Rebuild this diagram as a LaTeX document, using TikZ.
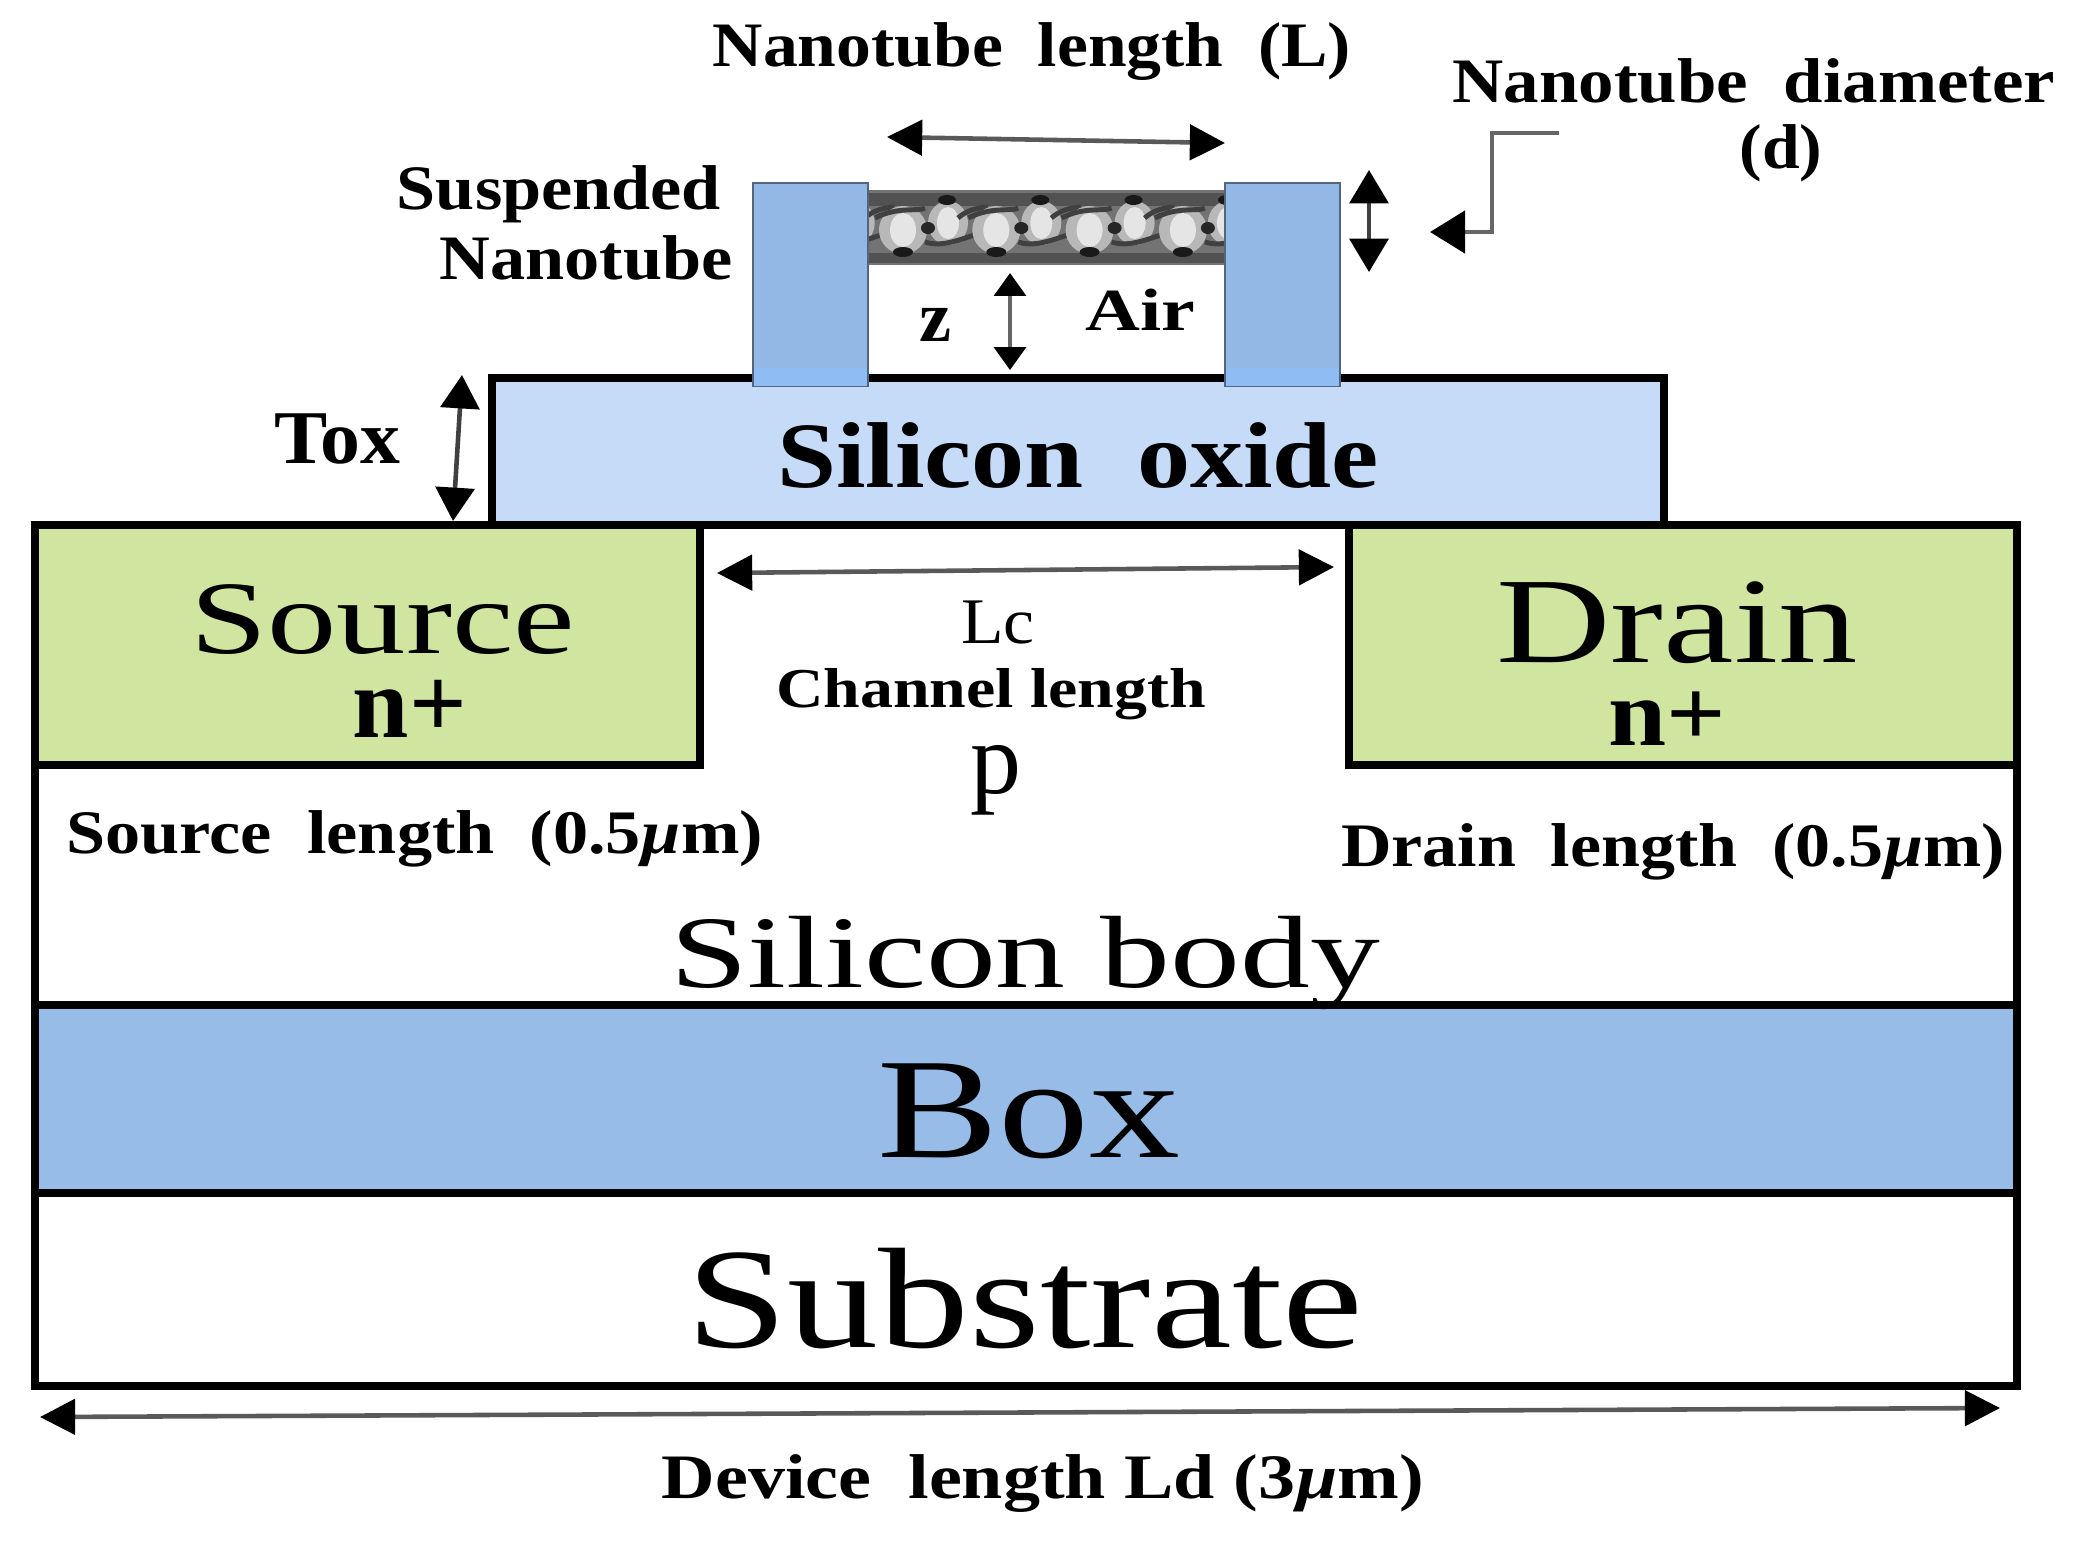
\documentclass[tikz,border=0pt]{standalone}
\usepackage{fontspec}
\setmainfont{Liberation Serif}
\usetikzlibrary{arrows.meta}

\definecolor{sourcegreen}{HTML}{D0E6A0}
\definecolor{boxblue}{HTML}{98BCE8}
\definecolor{oxideblue}{HTML}{C6DBF7}
\definecolor{pillarblue}{HTML}{93B8E6}
\definecolor{pillarfoot}{HTML}{8FBCF2}

\newcommand{\fsize}[1]{\fontsize{#1pt}{#1pt}\selectfont}

\tikzset{
    layer/.style={draw=black, line width=2.5pt},
    pillar/.style={draw=black!45!pillarblue, line width=0.8pt, fill=pillarblue},
    dimarrow/.style={<->, draw=black!65, line width=1.3pt, >={Triangle[length=10pt,width=10pt,color=black]}},
    thinarrow/.style={<->, draw=black!60, line width=1.1pt, >={Triangle[length=6.5pt,width=9pt,color=black]}},
    tallarrow/.style={<->, draw=black!75, line width=1.3pt, >={Triangle[length=9.5pt,width=11pt,color=black]}},
    strand/.style={draw=black!75, line width=1.4pt},
    smalltext/.style={anchor=base, inner sep=0pt, font=\bfseries\fsize{18}},
    bigtext/.style={anchor=base, inner sep=0pt},
}

\begin{document}
\begin{tikzpicture}[x=0.01cm, y=-0.01cm]
    \useasboundingbox (0,0) rectangle (2087,1541);

    % layers
    \draw[layer, fill=oxideblue] (492,378) rectangle (1664,525);
    \draw[layer, fill=white] (35,525) rectangle (2017,1005);
    \draw[layer, fill=sourcegreen] (35,525) rectangle (700,765);
    \draw[layer, fill=sourcegreen] (1349,525) rectangle (2017,765);
    \draw[layer, fill=boxblue] (35,1005) rectangle (2017,1193);
    \draw[layer, fill=white] (35,1193) rectangle (2017,1386);

    % nanotube
    \begin{scope}
        \clip (868,190) rectangle (1225,265);
        \fill[black!55] (868,190) rectangle (1225,265);
        \fill[black!68] (868,193) rectangle (1225,206);
        \fill[black!68] (868,253) rectangle (1225,263);
        \foreach \k in {-1,0,1,2,3} {
            \pgfmathsetmacro{\px}{903+93.3*\k}
            \fill[black!28] (\px,230) ellipse (24 and 24);
            \fill[black!28] (\px+45,223) ellipse (20 and 22);
            \fill[black!10] (\px,230) ellipse (13 and 17);
            \fill[black!10] (\px+45,223) ellipse (11 and 16);
            \draw[strand] (\px-28,218) .. controls (\px-5,206) and (\px+15,212) .. (\px+22,208);
            \draw[strand] (\px+22,242) .. controls (\px+40,248) and (\px+60,238) .. (\px+78,233);
            \draw[strand] (\px+55,218) .. controls (\px+62,212) and (\px+70,208) .. (\px+85,207);
            \fill[black!90] (\px+44,200) ellipse (9 and 5);
            \fill[black!90] (\px,252) ellipse (10 and 5);
            \fill[black!85] (\px+25,228) ellipse (7 and 6);
        }
    \end{scope}

    % pillars
    \draw[pillar] (753,183) rectangle (868,386);
    \draw[pillar] (1225,183) rectangle (1340,386);
    \fill[pillarfoot] (754,368) rectangle (867,386);
    \fill[pillarfoot] (1226,368) rectangle (1339,386);

    % arrow ends
    \coordinate (tubeL) at (887,137);
    \coordinate (tubeR) at (1225,143);
    \coordinate (diaT) at (1369,170);
    \coordinate (diaB) at (1369,272);
    \coordinate (zT) at (1010,273);
    \coordinate (zB) at (1010,370);
    \coordinate (toxT) at (462,375);
    \coordinate (toxB) at (453,521);
    \coordinate (chanL) at (717,573);
    \coordinate (chanR) at (1334,567);
    \coordinate (devL) at (40,1417);
    \coordinate (devR) at (2000,1408);
    \coordinate (bendA) at (1559,133);
    \coordinate (bendB) at (1492,133);
    \coordinate (bendC) at (1492,232);
    \coordinate (bendD) at (1430,232);

    \draw[dimarrow] (tubeL) -- (tubeR);
    \draw[tallarrow] (diaT) -- (diaB);
    \draw[thinarrow] (zT) -- (zB);
    \draw[tallarrow] (toxT) -- (toxB);
    \draw[dimarrow] (chanL) -- (chanR);
    \draw[dimarrow] (devL) -- (devR);
    \draw[->, draw=black!60, line width=1.3pt, >={Triangle[length=10pt,width=12pt,color=black]}]
        (bendA) -- (bendB) -- (bendC) -- (bendD);

    % labels
    \node[smalltext, xscale=1.10] (tubeLen) at (1032,66) {Nanotube\ \ length\ \ (L)};
    \node[smalltext, xscale=1.12] (tubeDia) at (1754,102) {Nanotube\ \ diameter};
    \node[smalltext, xscale=1.07] (tubeDiaD) at (1781,168) {(d)};
    \node[smalltext, xscale=1.11] (suspA) at (559,209) {Suspended};
    \node[smalltext, xscale=1.11] (suspB) at (586,279) {Nanotube};
    \node[smalltext, font=\bfseries\fsize{20.5}] (zLab) at (935,341) {z};
    \node[smalltext, font=\bfseries\fsize{17}, xscale=1.27] (airLab) at (1140,330) {Air};
    \node[smalltext, font=\bfseries\fsize{21.6}, xscale=1.05] (toxLab) at (337,463) {Tox};
    \node[bigtext, font=\bfseries\fsize{26.6}, xscale=1.135] (oxideLab) at (1078,487) {Silicon\ \ oxide};
    \node[bigtext, font=\fsize{29.6}, xscale=1.33] (sourceLab) at (383,653) {Source};
    \node[bigtext, font=\bfseries\fsize{28.8}] (sourceN) at (410,737) {n+};
    \node[bigtext, font=\fsize{34.7}, xscale=1.3] (drainLab) at (1677,662) {Drain};
    \node[bigtext, font=\bfseries\fsize{27}, xscale=1.1] (drainN) at (1667,745) {n+};
    \node[smalltext, font=\fsize{18.5}, xscale=1.07] (lcLab) at (998,643) {Lc};
    \node[smalltext, font=\bfseries\fsize{16}, xscale=1.17] (chanLab) at (991,707) {Channel length};
    \node[bigtext, font=\fsize{29}] (pLab) at (996,793) {p};
    \node[smalltext, font=\bfseries\fsize{17.6}, xscale=1.135] (sourceLen) at (415,853) {Source\ \ length\ \ (0.5{\itshape µ}m)};
    \node[smalltext, font=\bfseries\fsize{17.6}, xscale=1.13] (drainLen) at (1673,866) {Drain\ \ length\ \ (0.5{\itshape µ}m)};
    \node[bigtext, font=\fsize{29.2}, xscale=1.36] (bodyLab) at (1025,987) {Silicon body};
    \node[bigtext, font=\fsize{40.7}, xscale=1.27] (boxLab) at (1029,1157) {Box};
    \node[bigtext, font=\fsize{40.7}, xscale=1.27] (subLab) at (1025,1347) {Substrate};
    \node[smalltext, xscale=1.17] (devLab) at (1043,1498) {Device\ \ length Ld (3{\itshape µ}m)};
\end{tikzpicture}
\end{document}
